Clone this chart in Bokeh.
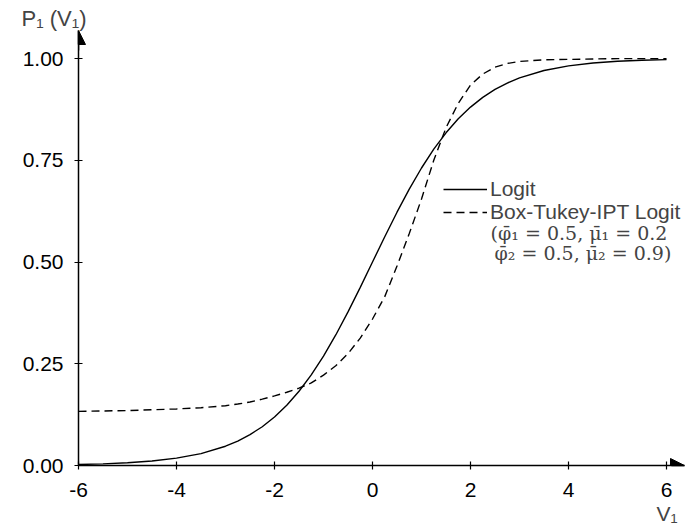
from bokeh.plotting import figure
from bokeh.models import Range1d, Arrow, NormalHead, Label, Legend, LegendItem, FixedTicker, Title
from bokeh.embed import file_html
from bokeh.resources import INLINE

# Data
v_vals = [-6, -5.5, -5, -4.5, -4, -3.5, -3, -2.75, -2.5, -2.25, -2, -1.75, -1.5, -1.25,
          -1, -0.75, -0.5, -0.25, 0, 0.25, 0.5, 0.75, 1, 1.25, 1.5, 1.75, 2, 2.25,
          2.5, 2.75, 3, 3.5, 4, 4.5, 5, 5.5, 6]
logit_p = [0.0025, 0.0041, 0.0067, 0.0110, 0.0180, 0.0293, 0.0474, 0.0601, 0.0759,
           0.0953, 0.1192, 0.1480, 0.1824, 0.2227, 0.2689, 0.3208, 0.3775, 0.4378,
           0.5000, 0.5622, 0.6225, 0.6792, 0.7311, 0.7773, 0.8176, 0.8520, 0.8808,
           0.9047, 0.9241, 0.9399, 0.9526, 0.9707, 0.9820, 0.9890, 0.9933, 0.9959, 0.9975]
bt_ipt_p = [0.133, 0.134, 0.135, 0.137, 0.139, 0.142, 0.147, 0.151, 0.156, 0.163,
            0.171, 0.180, 0.190, 0.203, 0.222, 0.245, 0.275, 0.313, 0.360, 0.415,
            0.490, 0.570, 0.655, 0.750, 0.830, 0.890, 0.935, 0.962, 0.979, 0.988,
            0.993, 0.997, 0.998, 0.999, 1.000, 1.000, 1.000]
x_ticks = [-6, -4, -2, 0, 2, 4, 6]
x_tick_labels = {-6: "-6", -4: "-4", -2: "-2", 0: "0", 2: "2", 4: "4", 6: "6"}
y_ticks = [0.0, 0.25, 0.5, 0.75, 1.0]
y_tick_labels = {0.0: "0.00", 0.25: "0.25", 0.5: "0.50", 0.75: "0.75", 1.0: "1.00"}

SANS = "Liberation Sans"
SERIF = "DejaVu Serif"
FS = "21px"

X_END = 6.367
Y_END = 1.069

p = figure(width=688, height=524, output_backend="svg", toolbar_location=None,
           x_range=Range1d(-6, X_END), y_range=Range1d(0, Y_END),
           min_border_left=78, min_border_right=4, min_border_top=30, min_border_bottom=57)
p.outline_line_color = None
p.xgrid.visible = False
p.ygrid.visible = False
p.background_fill_color = "white"
p.border_fill_color = "white"

for ax in (p.xaxis[0], p.yaxis[0]):
    ax.axis_line_color = "black"
    ax.axis_line_width = 1.5
    ax.major_tick_line_color = "black"
    ax.major_tick_line_width = 1.2
    ax.major_tick_in = 4
    ax.major_tick_out = 4
    ax.minor_tick_line_color = None
    ax.major_label_text_font = SANS
    ax.major_label_text_font_size = FS
    ax.major_label_text_color = "black"

p.xaxis.ticker = FixedTicker(ticks=x_ticks)
p.yaxis.ticker = FixedTicker(ticks=y_ticks)
p.xaxis.major_label_overrides = x_tick_labels
p.yaxis.major_label_overrides = y_tick_labels
p.xaxis.major_label_standoff = 13
p.yaxis.major_label_standoff = 11

r_logit = p.line(v_vals, logit_p, line_color="black", line_width=1.4)
r_bt = p.line(v_vals, bt_ipt_p, line_color="black", line_width=1.4, line_dash="8 5")

# axis arrowheads
p.add_layout(Arrow(end=NormalHead(size=14, fill_color="black", line_color="black"),
                   x_start=6.1, y_start=0, x_end=X_END, y_end=0,
                   line_color="black", line_width=1.5))
p.add_layout(Arrow(end=NormalHead(size=14, fill_color="black", line_color="black"),
                   x_start=-6, y_start=1.02, x_end=-6, y_end=Y_END,
                   line_color="black", line_width=1.5))

# axis labels as titles
t_y = Title(text="P\u2081 (V\u2081)", align="left", text_font=SANS, text_font_size="22px",
            text_font_style="normal", offset=-57, standoff=0)
p.add_layout(t_y, "above")
t_x = Title(text="V\u2081", align="right", text_font=SANS, text_font_size=FS,
            text_font_style="normal", offset=7, standoff=0)
p.add_layout(t_x, "below")

legend_kw = dict(border_line_color=None, background_fill_alpha=0, padding=0, margin=0,
                 spacing=0, glyph_width=44, glyph_height=20, label_height=20,
                 label_standoff=3, label_text_font=SANS, label_text_font_size=FS)
p.add_layout(Legend(items=[LegendItem(label="Logit", renderers=[r_logit])],
                    location=(365, 264), **legend_kw))
p.add_layout(Legend(items=[LegendItem(label="Box-Tukey-IPT Logit", renderers=[r_bt])],
                    location=(365, 241), **legend_kw))

p.add_layout(Label(x=2.41, y=0.572, text="(\u03c6\u0304\u2081 = 0.5, \u03bc\u0304\u2081 = 0.2",
                   text_font=SERIF, text_font_size="19px", text_baseline="middle"))
p.add_layout(Label(x=2.49, y=0.521, text="\u03c6\u0304\u2082 = 0.5, \u03bc\u0304\u2082 = 0.9)",
                   text_font=SERIF, text_font_size="19px", text_baseline="middle"))

open("out.html", "w").write(file_html(p, INLINE))
